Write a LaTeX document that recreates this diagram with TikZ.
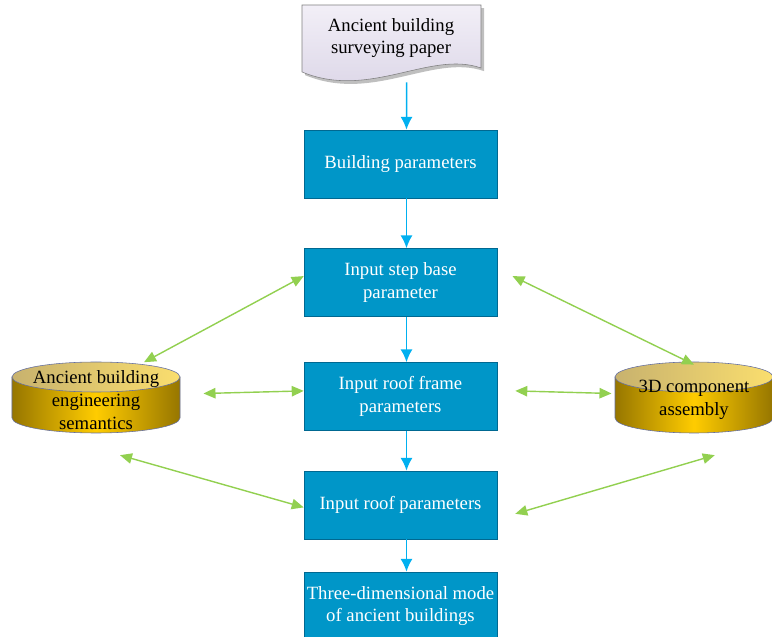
\documentclass[tikz,border=0pt]{standalone}
\usepackage{fontspec}
\setmainfont{Liberation Serif}
\usetikzlibrary{arrows.meta}

\definecolor{boxblue}{RGB}{0,150,200}
\definecolor{boxedge}{RGB}{0,104,145}
\definecolor{flowblue}{RGB}{0,176,240}
\definecolor{linkgreen}{RGB}{146,208,80}
\definecolor{drumdark}{RGB}{150,118,0}
\definecolor{drumlight}{RGB}{255,204,0}
\definecolor{lidleft}{RGB}{200,178,110}
\definecolor{lidright}{RGB}{250,222,110}
\definecolor{drumline}{RGB}{100,110,160}
\definecolor{doctop}{RGB}{242,239,247}
\definecolor{docbot}{RGB}{218,212,230}

% drum: name, x, y, x radius, text
\newcommand\drum[5]{%
  \shadedraw[draw=drumline, left color=drumdark, right color=drumdark, middle color=drumlight]
    ({#2-#4},{#3+0.5125}) -- ({#2-#4},{#3-0.5125})
    arc[start angle=180, end angle=360, x radius=#4, y radius=0.375]
    -- ({#2+#4},{#3+0.5125}) -- cycle;
  \shadedraw[draw=drumline, left color=lidleft, right color=lidright]
    (#2,{#3+0.5125}) ellipse[x radius=#4, y radius=0.375];
  \node[font=\fontsize{13.3}{16.3}\selectfont, align=center,
    minimum width=2*#4 cm, minimum height=1.75cm, inner sep=0pt] (#1) at (#2,{#3-0.06}) {#5};
}

\begin{document}
\begin{tikzpicture}
\tikzstyle{stage}=[rectangle, fill=boxblue, draw=boxedge, text=white, minimum width=4.825cm, minimum height=1.7cm, inner sep=0pt, align=center, font=\fontsize{13.3}{16.3}\selectfont]
\tikzstyle{flow}=[draw=flowblue, line width=1.1pt, -{Latex[length=3.2mm,width=3mm]}]
\tikzstyle{link}=[draw=linkgreen, line width=1pt, {Triangle[length=3mm,width=2.6mm]}-{Triangle[length=3mm,width=2.6mm]}]
\useasboundingbox (0,0) rectangle (19.3,15.925);

% surveying paper
\fill[gray!50] (7.63,15.72) -- (12.105,15.72) -- (12.105,14.145) .. controls (10.83,14.595) and (9.33,13.345) .. (7.63,14.045) -- cycle;
\shadedraw[draw=gray, top color=doctop, bottom color=docbot] (7.55,15.8) -- (12.025,15.8) -- (12.025,14.225) .. controls (10.75,14.675) and (9.25,13.425) .. (7.55,14.125) -- cycle;
\node[font=\fontsize{13.3}{16.3}\selectfont, align=center, minimum width=4.475cm, minimum height=2.2cm] (paper) at (9.775,14.975) {Ancient building\\surveying paper};

\node[stage] (b1) at (10.0125,11.825) {Building parameters};
\node[stage] (b2) at (10.0125,8.8625) {Input step base\\parameter};
\node[stage] (b3) at (10.0125,6.0125) {Input roof frame\\parameters};
\node[stage] (b4) at (10.0125,3.3) {Input roof parameters};
\node[stage] (b5) at (10.0125,0.775) {Three-dimensional mode\\of ancient buildings};

\drum{sem}{2.4}{5.9875}{2.1}{Ancient building\\engineering\\semantics}
\drum{asm}{17.35}{5.9875}{1.975}{3D component\\assembly}

\draw[flow] ([xshift=3.9mm]paper.south) -- ([xshift=1.5mm]b1.north);
\draw[flow] ([xshift=1.5mm]b1.south) -- ([xshift=1.5mm]b2.north);
\draw[flow] ([xshift=1.5mm]b2.south) -- ([xshift=1.5mm]b3.north);
\draw[flow] ([xshift=1.5mm]b3.south) -- ([xshift=1.5mm]b4.north);
\draw[flow] ([xshift=1.5mm]b4.south) -- ([xshift=1.5mm]b5.north);

\draw[link] ([shift={(1.2,0.06)}]sem.north) -- ([yshift=1.6mm]b2.west);
\draw[link] ([shift={(0.58,0.16)}]sem.east) -- ([yshift=1.4mm]b3.west);
\draw[link] ([shift={(0.6,-0.5)}]sem.south) -- ([yshift=-0.6mm]b4.west);
\draw[link] ([shift={(0.38,0.16)}]b2.east) -- (asm.north);
\draw[link] ([shift={(0.45,0.14)}]b3.east) -- ([shift={(-0.08,0.16)}]asm.west);
\draw[link] ([shift={(0.45,-0.22)}]b4.east) -- ([shift={(0.52,-0.5)}]asm.south);
\end{tikzpicture}
\end{document}
